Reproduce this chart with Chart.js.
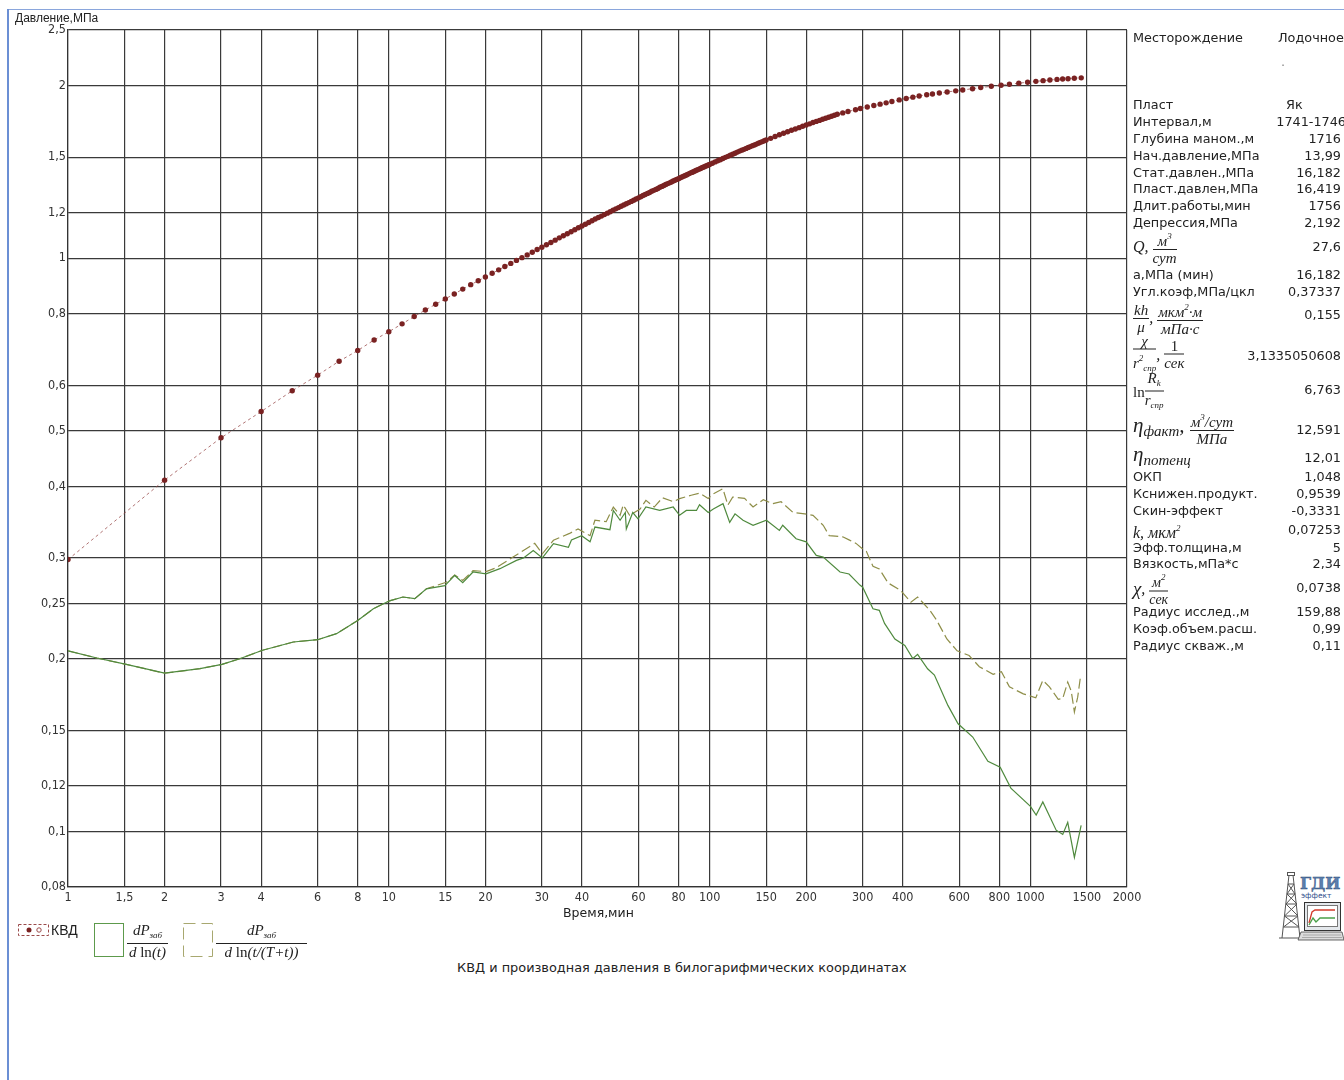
<!DOCTYPE html>
<html><head><meta charset="utf-8">
<script src="https://cdn.jsdelivr.net/npm/chart.js@4.4.1/dist/chart.umd.min.js"></script>
<style>
html,body{margin:0;padding:0;background:#fff;}
body{width:1344px;height:1080px;position:relative;overflow:hidden;font-family:'DejaVu Sans',sans-serif;color:#222;}
#wrap{position:absolute;left:0;top:0;width:1170px;height:920px;}
.t{position:absolute;white-space:nowrap;font-size:12.8px;line-height:14px;}
.row{position:absolute;left:1133px;transform:translateY(-50%);white-space:nowrap;font-size:12.8px;line-height:14px;display:flex;align-items:center;}
.val{position:absolute;right:3px;transform:translateY(-50%);white-space:nowrap;font-size:12.8px;line-height:14px;}
.m{font-family:'Liberation Serif','DejaVu Serif',serif;font-style:italic;font-size:16px;}
.fr{display:inline-flex;flex-direction:column;align-items:center;vertical-align:middle;font-family:'Liberation Serif','DejaVu Serif',serif;font-style:italic;line-height:14px;}
.fr .n{border-bottom:1px solid #222;padding:0 1px 1px 1px;align-self:stretch;text-align:center;}
.fr .d{padding-top:1px;}
.sub{font-size:9px;vertical-align:-3px;}
.sup{font-size:9px;vertical-align:7px;}
.rm{font-style:normal;}
</style></head>
<body>
<div style="position:absolute;left:7px;top:9px;width:1337px;height:1px;background:#8aa6dc"></div>
<div style="position:absolute;left:7px;top:9px;width:2px;height:1071px;background:#6b8fd4"></div>
<div id="wrap"><canvas id="c"></canvas></div>

<div class="t" style="left:15px;top:11px;font-family:'Liberation Sans',sans-serif;font-size:12px;">Давление,МПа</div>
<div class="t" style="left:563px;top:906px;font-size:12.5px;">Время,мин</div>
<div class="t" style="left:457px;top:961px;font-size:12.9px;">КВД и производная давления в билогарифмических координатах</div>

<!-- legend -->
<svg style="position:absolute;left:0;top:915px" width="330" height="50">
  <rect x="18.5" y="9.5" width="30" height="11" fill="none" stroke="#9a4a4a" stroke-dasharray="3,2"/>
  <circle cx="29" cy="15" r="2.5" fill="#7a2222"/>
  <circle cx="39" cy="15" r="2.2" fill="none" stroke="#9a4a4a"/>
  <rect x="94.5" y="8.5" width="29" height="33" fill="none" stroke="#5d9a4c"/>
  <rect x="183.5" y="8.5" width="29" height="33" fill="none" stroke="#a8a870" stroke-dasharray="12,6"/>
</svg>
<div class="t" style="left:51px;top:922px;font-family:'Liberation Sans',sans-serif;font-size:14px;line-height:16px;">КВД</div>
<div style="position:absolute;left:127px;top:923px;width:41px;font-size:15px;" class="fr"><span class="n">dP<span class="sub">заб</span></span><span class="d">d <span class="rm">ln</span>(t)</span></div>
<div style="position:absolute;left:216px;top:923px;width:91px;font-size:15px;" class="fr"><span class="n">dP<span class="sub">заб</span></span><span class="d">d <span class="rm">ln</span>(t/(T+t))</span></div>

<!-- right panel -->
<div class="row" style="top:38px">Месторождение</div><div class="t" style="left:1278px;top:31px">Лодочное</div>
<div class="t" style="left:1281px;top:55px;color:#888">.</div>
<div class="row" style="top:105px">Пласт</div><div class="t" style="left:1286px;top:98px">Як</div>
<div class="row" style="top:122px">Интервал,м</div><div class="val" style="top:122px;right:-2px">1741-1746</div>
<div class="row" style="top:139px">Глубина маном.,м</div><div class="val" style="top:139px">1716</div>
<div class="row" style="top:156px">Нач.давление,МПа</div><div class="val" style="top:156px">13,99</div>
<div class="row" style="top:173px">Стат.давлен.,МПа</div><div class="val" style="top:173px">16,182</div>
<div class="row" style="top:189px">Пласт.давлен,МПа</div><div class="val" style="top:189px">16,419</div>
<div class="row" style="top:206px">Длит.работы,мин</div><div class="val" style="top:206px">1756</div>
<div class="row" style="top:223px">Депрессия,МПа</div><div class="val" style="top:223px">2,192</div>
<div class="row" style="top:247px"><span class="m">Q,&nbsp;</span><span class="fr" style="font-size:15px"><span class="n">&nbsp;м<span class="sup">3</span>&nbsp;</span><span class="d">сут</span></span></div><div class="val" style="top:247px">27,6</div>
<div class="row" style="top:275px">а,МПа (мин)</div><div class="val" style="top:275px">16,182</div>
<div class="row" style="top:292px">Угл.коэф,МПа/цкл</div><div class="val" style="top:292px">0,37337</div>
<div class="row" style="top:318px"><span class="fr" style="font-size:15px"><span class="n">kh</span><span class="d">μ</span></span><span class="m">,&nbsp;</span><span class="fr" style="font-size:15px"><span class="n">мкм<span class="sup">2</span>·м</span><span class="d">мПа·с</span></span></div><div class="val" style="top:315px">0,155</div>
<div class="row" style="top:354px"><span class="fr" style="font-size:15px"><span class="n">χ</span><span class="d">r<span class="sup">2</span><span class="sub">спр</span></span></span><span class="m">,&nbsp;</span><span class="fr" style="font-size:15px"><span class="n rm">&nbsp;1&nbsp;</span><span class="d">сек</span></span></div><div class="val" style="top:356px">3,1335050608</div>
<div class="row" style="top:391px"><span class="m rm" style="font-size:15px">ln</span><span class="fr" style="font-size:15px"><span class="n">R<span class="sub">k</span></span><span class="d">r<span class="sub">спр</span></span></span></div><div class="val" style="top:390px">6,763</div>
<div class="row" style="top:428px"><span class="m" style="font-size:21px">η<span style="font-size:15px;vertical-align:-4px">факт</span>,&nbsp;</span><span class="fr" style="font-size:15px"><span class="n">м<span class="sup">3</span>/сут</span><span class="d">МПа</span></span></div><div class="val" style="top:430px">12,591</div>
<div class="row" style="top:457px"><span class="m" style="font-size:21px">η<span style="font-size:15px;vertical-align:-4px">потенц</span></span></div><div class="val" style="top:458px">12,01</div>
<div class="row" style="top:477px">ОКП</div><div class="val" style="top:477px">1,048</div>
<div class="row" style="top:494px">Кснижен.продукт.</div><div class="val" style="top:494px">0,9539</div>
<div class="row" style="top:511px">Скин-эффект</div><div class="val" style="top:511px">-0,3331</div>
<div class="row" style="top:530px"><span class="m" style="font-size:16px">k, мкм<span class="sup">2</span></span></div><div class="val" style="top:530px">0,07253</div>
<div class="row" style="top:548px">Эфф.толщина,м</div><div class="val" style="top:548px">5</div>
<div class="row" style="top:564px">Вязкость,мПа*с</div><div class="val" style="top:564px">2,34</div>
<div class="row" style="top:588px"><span class="m" style="font-size:19px">χ</span><span class="m">,&nbsp;</span><span class="fr" style="font-size:14px"><span class="n">м<span class="sup">2</span></span><span class="d">сек</span></span></div><div class="val" style="top:588px">0,0738</div>
<div class="row" style="top:612px">Радиус исслед.,м</div><div class="val" style="top:612px">159,88</div>
<div class="row" style="top:629px">Коэф.объем.расш.</div><div class="val" style="top:629px">0,99</div>
<div class="row" style="top:646px">Радиус скваж.,м</div><div class="val" style="top:646px">0,11</div>

<!-- logo -->
<svg style="position:absolute;left:1278px;top:870px" width="66" height="72" viewBox="0 0 66 72">
  <g stroke="#555" stroke-width="1" fill="none">
    <line x1="4" y1="68" x2="11" y2="5"/><line x1="22" y1="68" x2="15" y2="5"/>
    <rect x="9.5" y="2.5" width="7" height="3"/>
    <line x1="10" y1="14" x2="16" y2="14"/><line x1="9" y1="24" x2="17" y2="24"/><line x1="8" y1="34" x2="19" y2="34"/><line x1="6.5" y1="46" x2="20" y2="46"/><line x1="5.5" y1="57" x2="21" y2="57"/>
    <line x1="10" y1="14" x2="17" y2="24"/><line x1="16" y1="14" x2="9" y2="24"/>
    <line x1="9" y1="24" x2="19" y2="34"/><line x1="17" y1="24" x2="8" y2="34"/>
    <line x1="8" y1="34" x2="20" y2="46"/><line x1="19" y1="34" x2="6.5" y2="46"/>
    <line x1="6.5" y1="46" x2="21" y2="57"/><line x1="20" y1="46" x2="5.5" y2="57"/>
    <line x1="1" y1="68" x2="25" y2="68"/>
  </g>
  <text x="22" y="19" font-family="DejaVu Serif, serif" font-weight="bold" font-size="16" fill="#5b7fae" stroke="#2e4d7a" stroke-width="0.4">ГДИ</text>
  <text x="23" y="28" font-family="DejaVu Sans, sans-serif" font-size="7.5" fill="#2e4d8a">эффект</text>
  <rect x="26.5" y="32.5" width="36" height="28" fill="#e4e8ec" stroke="#333"/>
  <rect x="29.5" y="35.5" width="30" height="21" fill="#fff" stroke="#777"/>
  <polyline points="31,53 34,42 37,40 57,40" fill="none" stroke="#d23a2a" stroke-width="1.3"/>
  <polyline points="31,55 35,48 38,52 42,48 57,48" fill="none" stroke="#4aa04a" stroke-width="1.3"/>
  <polygon points="23,62 64,62 66,70 20,70" fill="#ddd" stroke="#444" stroke-width="0.8"/>
  <line x1="25" y1="65" x2="63" y2="65" stroke="#888" stroke-width="0.6"/>
  <line x1="24" y1="67.5" x2="64" y2="67.5" stroke="#888" stroke-width="0.6"/>
</svg>

<script>
const xTickValues=[1,1.5,2,3,4,6,8,10,15,20,30,40,60,80,100,150,200,300,400,600,800,1000,1500,2000];
const yTickValues=[0.08,0.1,0.12,0.15,0.2,0.25,0.3,0.4,0.5,0.6,0.8,1,1.2,1.5,2,2.5];

const kvdTime=[1,2,3,4,5,6,7,8,9,10,11,12,13,14,15,16,17,18,19,20,21,22,23,24,25,26,27,28,29,30,
31,32,33,34,35,36,37,38,39,40,41,42,43,44,45,46,47,48,49,50,51,52,53,54,55,56,57,58,59,60,
61,62,63,64,65,66,67,68,69,70,71,72,73,74,75,76,77,78,79,80,81,82,83,84,85,86,87,88,89,90,
91,92,93,94,95,96,97,98,99,100,
102,104,106,108,110,112,114,116,118,120,122,124,126,128,130,132,134,136,138,140,142,144,146,148,150,
155,160,165,170,175,180,185,190,195,200,205,210,215,220,225,230,235,240,245,
250,260,270,285,295,310,325,340,355,370,390,410,430,450,475,495,520,550,585,615,660,700,755,810,860,920,980,1040,1095,1150,1210,1260,1310,1370,1440];
const kvdPressure=[0.298,0.410,0.486,0.540,0.587,0.625,0.661,0.690,0.720,0.744,0.768,0.791,0.812,0.831,0.849,0.866,0.883,0.899,0.913,0.927,0.941,0.954,0.967,0.979,0.991,1.002,1.013,1.024,1.035,1.045,
1.055,1.065,1.075,1.085,1.094,1.103,1.112,1.121,1.130,1.138,1.146,1.154,1.162,1.170,1.177,1.184,1.191,1.198,1.205,1.212,1.219,1.225,1.232,1.238,1.244,1.250,1.256,1.262,1.268,1.274,
1.280,1.286,1.291,1.297,1.302,1.308,1.313,1.318,1.323,1.329,1.334,1.339,1.344,1.349,1.353,1.358,1.363,1.367,1.372,1.376,1.381,1.385,1.390,1.394,1.398,1.403,1.407,1.411,1.415,1.419,
1.423,1.427,1.431,1.435,1.439,1.442,1.446,1.450,1.454,1.457,
1.464,1.472,1.479,1.485,1.492,1.499,1.505,1.512,1.518,1.524,1.531,1.537,1.543,1.548,1.554,1.560,1.565,1.571,1.576,1.581,1.587,1.592,1.597,1.602,1.607,
1.618,1.630,1.641,1.651,1.661,1.671,1.680,1.689,1.698,1.707,1.715,1.724,1.732,1.739,1.747,1.754,1.761,1.768,1.775,
1.782,1.792,1.802,1.815,1.824,1.835,1.846,1.856,1.866,1.876,1.888,1.899,1.909,1.918,1.927,1.933,1.941,1.949,1.958,1.965,1.975,1.984,1.994,2.003,2.010,2.019,2.027,2.034,2.040,2.045,2.050,2.053,2.056,2.060,2.063];

const derivLnTime=[1,1.23,1.52,2,2.58,3.02,3.43,4.04,5.04,6,6.87,8,8.95,10.05,11.07,12.05,13.1,14.95,16.05,17,18.3,20.1,22.2,25,26.3,28.2,30.1,32.6,36.3,37.1,39.9,42.4,43.9,48.9,50.1,52.6,54.6,55,57.6,59.8,63.3,69.9,77,80.6,84.6,91,93,99,102.7,110.1,115.5,120,127.1,136.6,150.3,165,169,186,200,215,226,255,272,294,300,323,338,351,378,406,430,445,478,502,553,595,661,737,805,869,1000,1042,1093,1203,1261,1307,1371,1439];
const derivLnValue=[0.2065,0.2007,0.1956,0.1888,0.1923,0.1956,0.2001,0.207,0.214,0.216,0.2213,0.2334,0.2446,0.2525,0.2564,0.2547,0.265,0.2684,0.2796,0.2716,0.2835,0.2813,0.2873,0.297,0.300,0.309,0.300,0.3177,0.313,0.3223,0.328,0.320,0.3396,0.336,0.363,0.349,0.360,0.337,0.360,0.351,0.368,0.363,0.368,0.356,0.363,0.363,0.3713,0.360,0.365,0.373,0.346,0.358,0.349,0.342,0.349,0.335,0.342,0.324,0.320,0.303,0.301,0.2835,0.2812,0.269,0.2667,0.2446,0.243,0.2306,0.2166,0.211,0.2003,0.2037,0.1922,0.1874,0.1659,0.1541,0.1461,0.1325,0.1294,0.119,0.1106,0.1068,0.1126,0.1005,0.0988,0.1037,0.0901,0.1025];

const derivHornerTime=[1,1.23,1.52,2,2.58,3.02,3.43,4.04,5.04,6,6.87,8,8.95,10.05,11.07,12.05,13.1,15.1,16.05,17,18.3,20.1,21.5,24.4,28.5,30.1,32.6,36.6,38.9,42.4,43.9,47.6,50.1,52.6,53.8,56.3,60.7,63.3,67.2,71.3,77,80.6,87.6,93,99,102.7,110,114,118,128.5,136.6,147,157,167,182,198,210,226,236,260,272,286,300,308,323,338,360,394,424,445,486,510,549,591,644,693,765,812,860,950,1039,1093,1146,1221,1261,1307,1340,1371,1404,1430];
const derivHornerValue=[0.2065,0.2007,0.1956,0.1888,0.1923,0.1956,0.2001,0.207,0.214,0.216,0.2213,0.2334,0.2446,0.2525,0.2564,0.2547,0.265,0.272,0.280,0.274,0.285,0.284,0.288,0.301,0.318,0.305,0.322,0.331,0.337,0.328,0.349,0.347,0.368,0.356,0.371,0.356,0.365,0.378,0.368,0.382,0.376,0.3807,0.3858,0.389,0.381,0.388,0.396,0.371,0.383,0.381,0.368,0.379,0.373,0.376,0.360,0.358,0.356,0.342,0.328,0.3265,0.3225,0.318,0.311,0.308,0.290,0.287,0.2713,0.2633,0.2511,0.2564,0.243,0.2336,0.2166,0.2066,0.2027,0.1938,0.188,0.190,0.1787,0.1738,0.171,0.1835,0.1787,0.170,0.1706,0.1822,0.1758,0.1616,0.1715,0.185];

const fmt=v=>String(v).replace('.',',');
const pts=(xs,ys)=>xs.map((x,i)=>({x:x,y:ys[i]}));
const tickFont={family:"'Liberation Sans Narrow','DejaVu Sans Condensed','Liberation Sans',sans-serif",size:12.5};

new Chart(document.getElementById('c'),{
  type:'line',
  data:{datasets:[
    {label:'КВД',data:pts(kvdTime,kvdPressure),borderColor:'rgba(150,70,70,0.75)',borderWidth:1,borderDash:[3,3],pointRadius:2.7,pointBackgroundColor:'#7a2222',pointBorderWidth:0,order:0},
    {label:'dP/dln(t)',data:pts(derivLnTime,derivLnValue),borderColor:'#4f8a3e',borderWidth:1.2,pointRadius:0,order:1},
    {label:'dP/dln(t/(T+t))',data:pts(derivHornerTime,derivHornerValue),borderColor:'#8e8e48',borderWidth:1.2,borderDash:[10,4],pointRadius:0,order:2}
  ]},
  options:{
    animation:false,responsive:true,maintainAspectRatio:false,events:[],
    layout:{padding:{left:0,top:30,right:43,bottom:0}},
    plugins:{legend:{display:false},tooltip:{enabled:false},title:{display:false}},
    scales:{
      x:{type:'logarithmic',min:1,max:2000,
        afterBuildTicks:s=>{s.ticks=xTickValues.map(v=>({value:v}));},
        afterFit:s=>{s.height=33;},
        ticks:{autoSkip:false,maxRotation:0,minRotation:0,padding:3,color:'#333',font:tickFont,callback:v=>fmt(v)},
        grid:{color:'#3a3a3a',lineWidth:1.2,drawTicks:false},
        border:{color:'#333',width:1.2}},
      y:{type:'logarithmic',min:0.08,max:2.5,
        afterBuildTicks:s=>{s.ticks=yTickValues.map(v=>({value:v}));},
        afterFit:s=>{s.width=68;},
        ticks:{autoSkip:false,padding:2,color:'#333',font:tickFont,callback:v=>fmt(v)},
        grid:{color:'#3a3a3a',lineWidth:1.2,drawTicks:false},
        border:{color:'#333',width:1.2}}
    }
  }
});
</script>
</body></html>
